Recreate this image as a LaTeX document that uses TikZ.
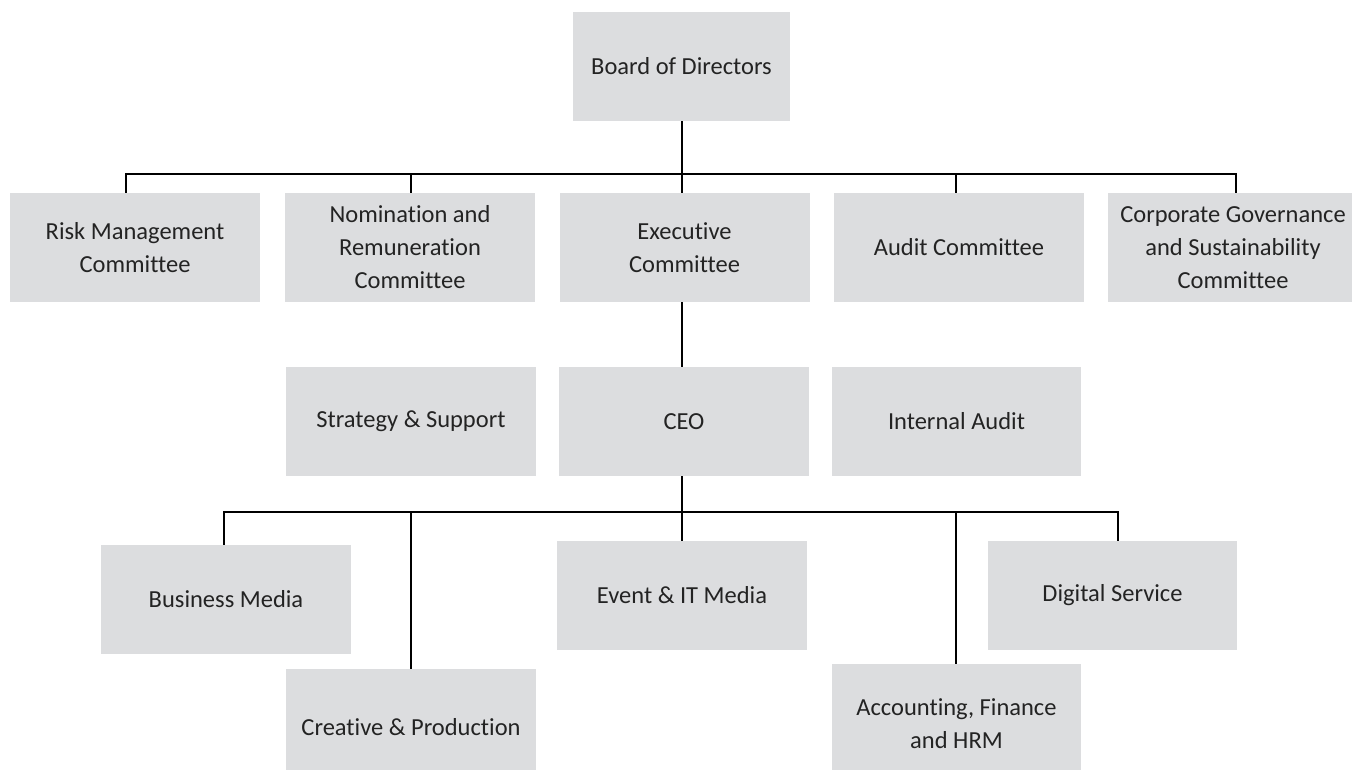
\documentclass[tikz,border=0pt]{standalone}
\usepackage{fontspec}
\setmainfont{Carlito}[Ligatures=NoCommon]
\definecolor{boxgray}{RGB}{220,221,223}
\definecolor{txt}{RGB}{35,35,35}
\begin{document}
\begin{tikzpicture}[x=1pt,y=1pt,
  box/.style={fill=boxgray,draw=none,inner sep=0pt,minimum height=109pt,
    text=txt,align=center,font=\fontsize{24.5}{33}\selectfont},
  wire/.style={draw=black,line width=2.6pt}]
\clip (0,0) rectangle (1352,-770);
\fill[white] (0,0) rectangle (1352,-770);
% row 1
\node[box,minimum width=217pt] (board) at (681.5,-66.5) {Board of Directors};
% row 2
\node[box,minimum width=250pt] (risk) at (135,-247.5) {Risk Management\\Committee};
\node[box,minimum width=250pt] (nom) at (410,-247.5) {Nomination and\\Remuneration\\Committee};
\node[box,minimum width=250pt] (exec) at (684.5,-247.5) {Executive\\Committee};
\node[box,minimum width=250pt] (audit) at (959,-247.5) {Audit Committee};
\node[box,minimum width=250pt] (cg) at (1233,-247.5) {Corporate Governance\\and Sustainability\\Committee};
% row 3
\node[box,minimum width=250pt] (strat) at (411,-421.5) {Strategy \& Support};
\node[box,minimum width=250pt] (ceo) at (684,-421.5) {CEO};
\node[box,minimum width=249pt] (ia) at (956.5,-421.5) {Internal Audit};
% row 4
\node[box,minimum width=250pt] (bm) at (226,-599.5) {Business Media};
\node[box,minimum width=250pt] (event) at (682,-595.5) {Event \& IT Media};
\node[box,minimum width=249pt] (ds) at (1112.5,-595.5) {Digital Service};
% row 5
\node[box,minimum width=250pt,minimum height=116pt] (creative) at (411,-727) {Creative \& Production};
\node[box,minimum width=249pt,minimum height=120pt] (acct) at (956.5,-724) {Accounting, Finance\\and HRM};
% bus coordinates
\coordinate (busA) at (682,-174);
\coordinate (busB) at (682,-512);
\coordinate (tRisk) at (126,-174);
\coordinate (tNom) at (411,-174);
\coordinate (tAudit) at (956,-174);
\coordinate (tCg) at (1236,-174);
\coordinate (tBm) at (224,-512);
\coordinate (tCr) at (411,-512);
\coordinate (tAc) at (956,-512);
\coordinate (tDs) at (1118,-512);
% connectors top
\draw[wire] (board.south -| busA) -- (exec.north -| busA);
\draw[wire] (tRisk |- risk.north) -- (tRisk) -- (tCg) -- (tCg |- cg.north);
\draw[wire] (tNom) -- (tNom |- nom.north);
\draw[wire] (tAudit) -- (tAudit |- audit.north);
% exec to ceo
\draw[wire] (exec.south -| busA) -- (ceo.north -| busA);
% ceo to departments
\draw[wire] (ceo.south -| busB) -- (event.north -| busB);
\draw[wire] (tBm |- bm.north) -- (tBm) -- (tDs) -- (tDs |- ds.north);
\draw[wire] (tCr) -- (tCr |- creative.north);
\draw[wire] (tAc) -- (tAc |- acct.north);
\end{tikzpicture}
\end{document}
